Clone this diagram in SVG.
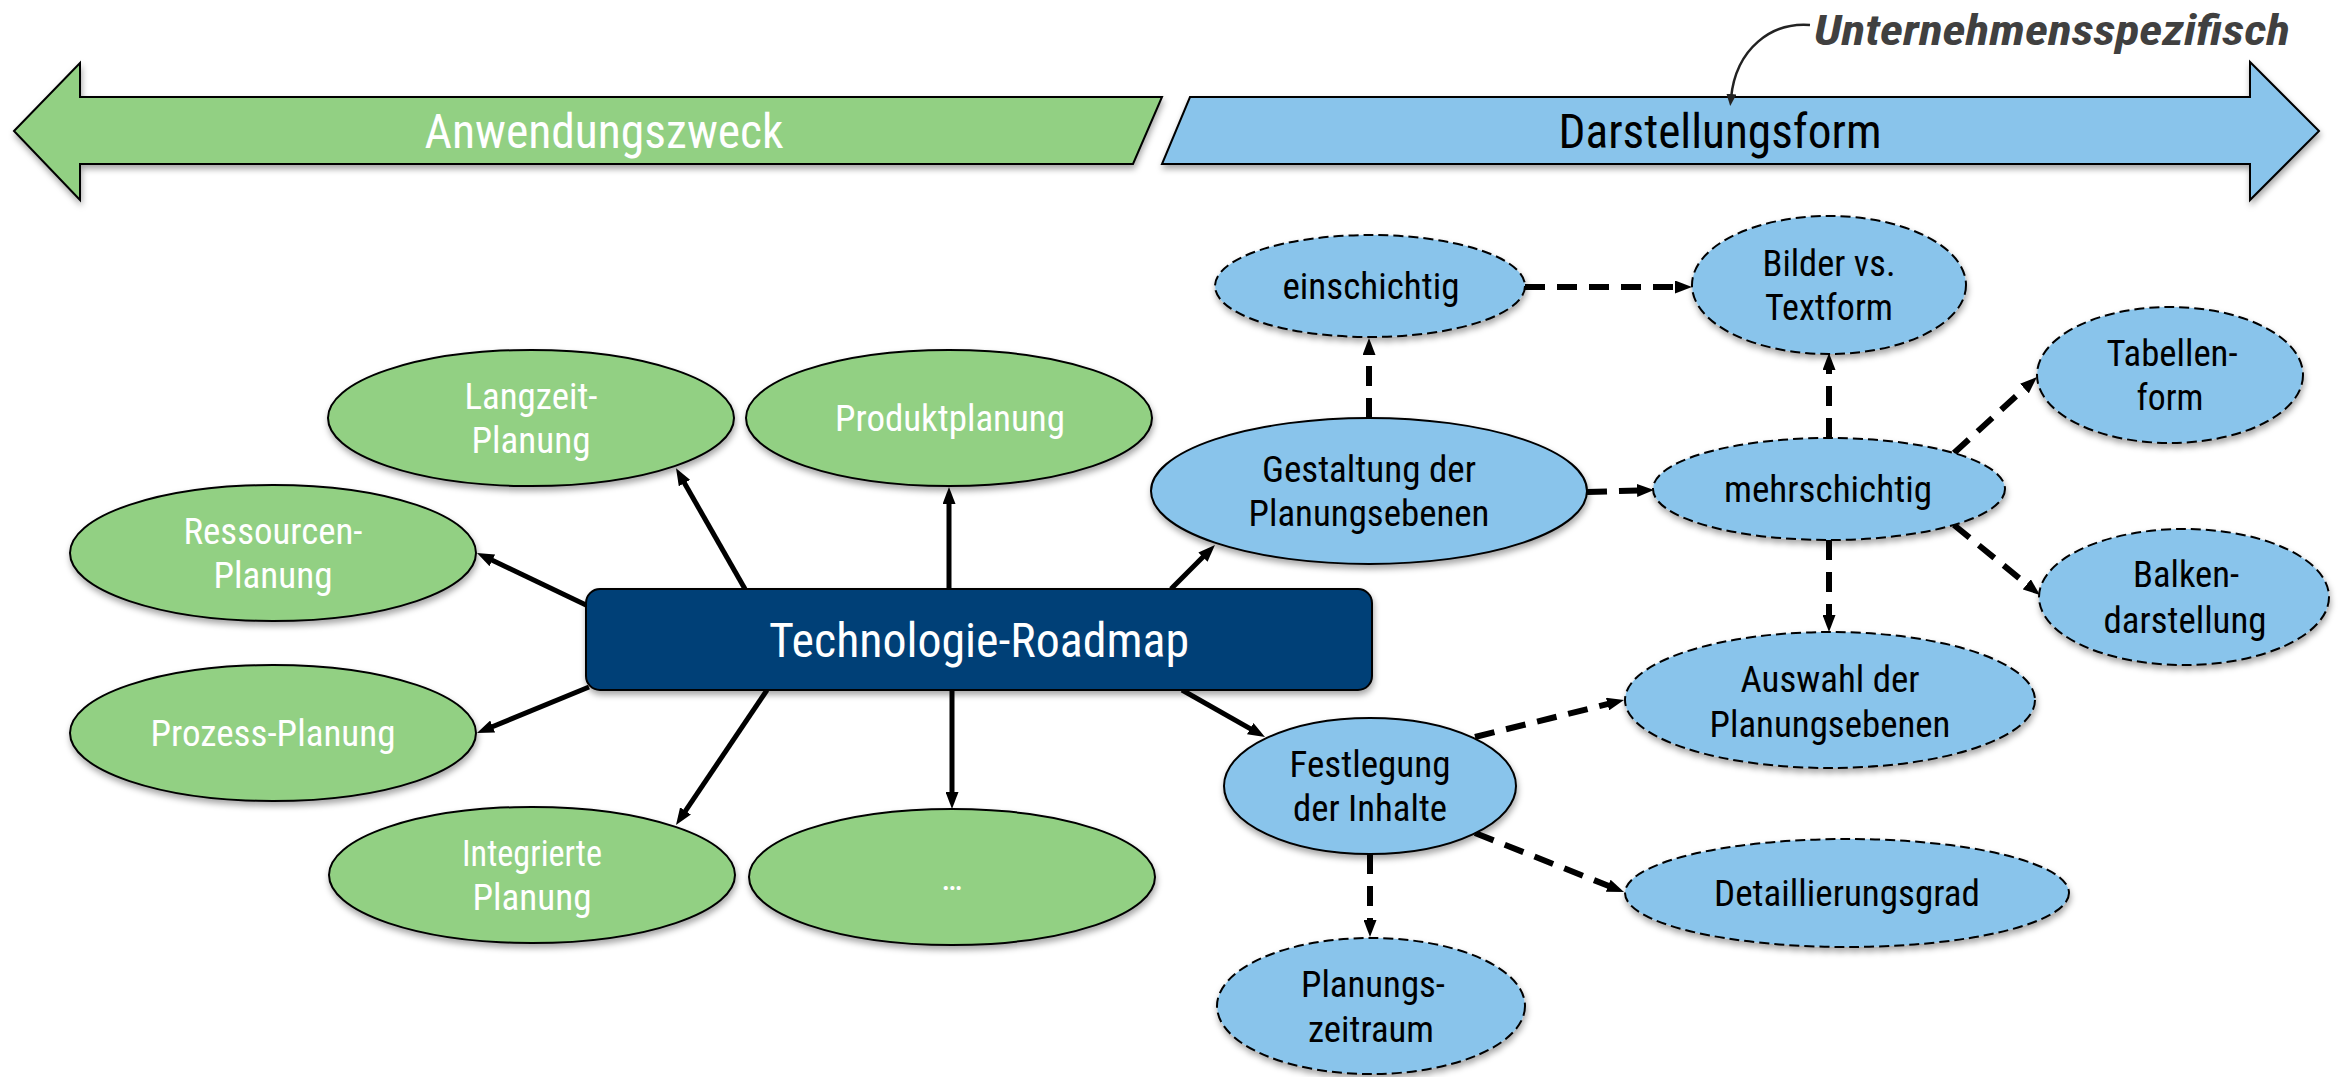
<svg xmlns="http://www.w3.org/2000/svg" width="2339" height="1077" viewBox="0 0 2339 1077">
<defs>
<style>
.t{font-family:"Roboto Condensed",Roboto,"Liberation Sans",sans-serif;font-size:36px;text-anchor:middle}
.big{font-size:48px}
.w{fill:#ffffff}
.k{fill:#000000}
.g{fill:#92d083;stroke:#000;stroke-width:2}
.b{fill:#89c4eb;stroke:#000;stroke-width:2}
.bd{fill:#89c4eb;stroke:#000;stroke-width:2;stroke-dasharray:10 5}
.sol{fill:none;stroke:#000;stroke-width:5}
.dsh{fill:none;stroke:#000;stroke-width:6;stroke-dasharray:20 12}
</style>
<filter id="sh" x="-10%" y="-10%" width="120%" height="130%">
<feDropShadow dx="1" dy="4" stdDeviation="3" flood-color="#000" flood-opacity="0.35"/>
</filter>
<marker id="ah" viewBox="0 0 17 13" markerUnits="userSpaceOnUse" markerWidth="17" markerHeight="13" refX="7" refY="6.5" orient="auto">
<path d="M0,0 L17,6.5 L0,13 z" fill="#000"/>
</marker>
<marker id="ahs" viewBox="0 0 12 10" markerUnits="userSpaceOnUse" markerWidth="12" markerHeight="10" refX="4" refY="5" orient="auto">
<path d="M0,0 L12,5 L0,10 z" fill="#222"/>
</marker>
</defs>
<rect width="2339" height="1077" fill="#fff"/>

<g id="arrow-anwendungszweck">
<polygon points="14,131 80,63 80,97 1162,97 1133,164 80,164 80,200" fill="#92d083" stroke="#000" stroke-width="2" filter="url(#sh)"/>
<text class="t big w" x="604" y="148" textLength="359" lengthAdjust="spacingAndGlyphs">Anwendungszweck</text>
</g>
<g id="arrow-darstellungsform">
<polygon points="1190,97 2250,97 2250,62 2319,131 2250,200 2250,164 1162,164" fill="#89c4eb" stroke="#000" stroke-width="2" filter="url(#sh)"/>
<text class="t big k" x="1720" y="148" textLength="323" lengthAdjust="spacingAndGlyphs">Darstellungsform</text>
</g>
<g id="note-unternehmensspezifisch">
<path d="M1810,25 C1772,22 1736,48 1731,98" fill="none" stroke="#222" stroke-width="2.5" marker-end="url(#ahs)"/>
<text x="2052" y="45" font-family="'Roboto Condensed',Roboto,'Liberation Sans',sans-serif" font-size="42" font-weight="bold" font-style="italic" fill="#404040" text-anchor="middle" textLength="476" lengthAdjust="spacingAndGlyphs">Unternehmensspezifisch</text>
</g>

<g id="connectors">
<path class="sol" d="M745,589 L681,477" marker-end="url(#ah)"/>
<path class="sol" d="M949,589 L949,497" marker-end="url(#ah)"/>
<path class="sol" d="M586,605 L486,557.3" marker-end="url(#ah)"/>
<path class="sol" d="M589,687 L486.2,729.2" marker-end="url(#ah)"/>
<path class="sol" d="M767,690 L681.6,816.7" marker-end="url(#ah)"/>
<path class="sol" d="M952,690 L952,799" marker-end="url(#ah)"/>
<path class="sol" d="M1171,589 L1207.9,552.1" marker-end="url(#ah)"/>
<path class="sol" d="M1182,690 L1256.3,732.1" marker-end="url(#ah)"/>
<path class="dsh" d="M1369,418 L1369,348" marker-end="url(#ah)"/>
<path class="dsh" d="M1525,287 L1682,287" marker-end="url(#ah)"/>
<path class="dsh" d="M1587,492 L1644,490.3" marker-end="url(#ah)"/>
<path class="dsh" d="M1829,438 L1829,363" marker-end="url(#ah)"/>
<path class="dsh" d="M1954,453 L2029.6,383.8" marker-end="url(#ah)"/>
<path class="dsh" d="M1954,525 L2032.2,588.7" marker-end="url(#ah)"/>
<path class="dsh" d="M1829,540 L1829,622" marker-end="url(#ah)"/>
<path class="dsh" d="M1475,737 L1614.3,702.4" marker-end="url(#ah)"/>
<path class="dsh" d="M1475,833 L1614.7,888.3" marker-end="url(#ah)"/>
<path class="dsh" d="M1370,854 L1370,927" marker-end="url(#ah)"/>
</g>

<g id="technologie-roadmap">
<rect x="586" y="589" width="786" height="101" rx="14" fill="#013f77" stroke="#000" stroke-width="2" filter="url(#sh)"/>
<text class="t big w" x="979" y="657" textLength="420" lengthAdjust="spacingAndGlyphs">Technologie-Roadmap</text>
</g>

<g id="langzeit-planung">
<ellipse class="g" cx="531" cy="418" rx="203" ry="68" filter="url(#sh)"/>
<text class="t w" x="531" y="409" textLength="133" lengthAdjust="spacingAndGlyphs">Langzeit-</text>
<text class="t w" x="531" y="453" textLength="119" lengthAdjust="spacingAndGlyphs">Planung</text>
</g>
<g id="produktplanung">
<ellipse class="g" cx="949" cy="418" rx="203" ry="68" filter="url(#sh)"/>
<text class="t w" x="950" y="431" textLength="230" lengthAdjust="spacingAndGlyphs">Produktplanung</text>
</g>
<g id="ressourcen-planung">
<ellipse class="g" cx="273" cy="553" rx="203" ry="68" filter="url(#sh)"/>
<text class="t w" x="273" y="544" textLength="179" lengthAdjust="spacingAndGlyphs">Ressourcen-</text>
<text class="t w" x="273" y="588" textLength="119" lengthAdjust="spacingAndGlyphs">Planung</text>
</g>
<g id="prozess-planung">
<ellipse class="g" cx="273" cy="733" rx="203" ry="68" filter="url(#sh)"/>
<text class="t w" x="273" y="746" textLength="245" lengthAdjust="spacingAndGlyphs">Prozess-Planung</text>
</g>
<g id="integrierte-planung">
<ellipse class="g" cx="532" cy="875" rx="203" ry="68" filter="url(#sh)"/>
<text class="t w" x="532" y="866" textLength="140" lengthAdjust="spacingAndGlyphs">Integrierte</text>
<text class="t w" x="532" y="910" textLength="119" lengthAdjust="spacingAndGlyphs">Planung</text>
</g>
<g id="weitere">
<ellipse class="g" cx="952" cy="877" rx="203" ry="68" filter="url(#sh)"/>
<text class="t w" x="952" y="890">…</text>
</g>

<g id="gestaltung-der-planungsebenen">
<ellipse class="b" cx="1369" cy="491" rx="218" ry="73" filter="url(#sh)"/>
<text class="t k" x="1369" y="482" textLength="214" lengthAdjust="spacingAndGlyphs">Gestaltung der</text>
<text class="t k" x="1369" y="526" textLength="241" lengthAdjust="spacingAndGlyphs">Planungsebenen</text>
</g>
<g id="einschichtig">
<ellipse class="bd" cx="1370" cy="286" rx="155" ry="51" filter="url(#sh)"/>
<text class="t k" x="1371" y="299" textLength="177" lengthAdjust="spacingAndGlyphs">einschichtig</text>
</g>
<g id="bilder-vs-textform">
<ellipse class="bd" cx="1829" cy="285" rx="137" ry="69" filter="url(#sh)"/>
<text class="t k" x="1829" y="276" textLength="133" lengthAdjust="spacingAndGlyphs">Bilder vs.</text>
<text class="t k" x="1829" y="320" textLength="128" lengthAdjust="spacingAndGlyphs">Textform</text>
</g>
<g id="mehrschichtig">
<ellipse class="bd" cx="1829" cy="489" rx="176" ry="51" filter="url(#sh)"/>
<text class="t k" x="1828" y="502" textLength="208" lengthAdjust="spacingAndGlyphs">mehrschichtig</text>
</g>
<g id="tabellenform">
<ellipse class="bd" cx="2170" cy="375" rx="133" ry="68" filter="url(#sh)"/>
<text class="t k" x="2172" y="366" textLength="131" lengthAdjust="spacingAndGlyphs">Tabellen-</text>
<text class="t k" x="2170" y="410" textLength="67" lengthAdjust="spacingAndGlyphs">form</text>
</g>
<g id="balkendarstellung">
<ellipse class="bd" cx="2184" cy="597" rx="145" ry="68" filter="url(#sh)"/>
<text class="t k" x="2186" y="587" textLength="106" lengthAdjust="spacingAndGlyphs">Balken-</text>
<text class="t k" x="2185" y="633" textLength="163" lengthAdjust="spacingAndGlyphs">darstellung</text>
</g>
<g id="auswahl-der-planungsebenen">
<ellipse class="bd" cx="1830" cy="700" rx="205" ry="68" filter="url(#sh)"/>
<text class="t k" x="1830" y="692" textLength="179" lengthAdjust="spacingAndGlyphs">Auswahl der</text>
<text class="t k" x="1830" y="737" textLength="241" lengthAdjust="spacingAndGlyphs">Planungsebenen</text>
</g>
<g id="festlegung-der-inhalte">
<ellipse class="b" cx="1370" cy="786" rx="146" ry="68" filter="url(#sh)"/>
<text class="t k" x="1370" y="777" textLength="161" lengthAdjust="spacingAndGlyphs">Festlegung</text>
<text class="t k" x="1370" y="821" textLength="154" lengthAdjust="spacingAndGlyphs">der Inhalte</text>
</g>
<g id="detaillierungsgrad">
<ellipse class="bd" cx="1847" cy="893" rx="222" ry="54" filter="url(#sh)"/>
<text class="t k" x="1847" y="906" textLength="266" lengthAdjust="spacingAndGlyphs">Detaillierungsgrad</text>
</g>
<g id="planungszeitraum">
<ellipse class="bd" cx="1371" cy="1006" rx="154" ry="68" filter="url(#sh)"/>
<text class="t k" x="1373" y="997" textLength="144" lengthAdjust="spacingAndGlyphs">Planungs-</text>
<text class="t k" x="1371" y="1042" textLength="126" lengthAdjust="spacingAndGlyphs">zeitraum</text>
</g>
</svg>
